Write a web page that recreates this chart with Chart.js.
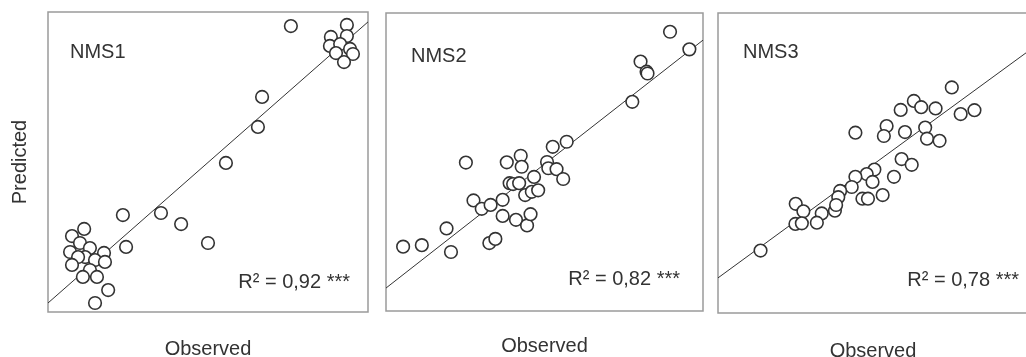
<!DOCTYPE html>
<html>
<head>
<meta charset="utf-8">
<script src="https://cdn.jsdelivr.net/npm/chart.js@4.4.1/dist/chart.umd.min.js"></script>
<style>
  body { margin: 0; background: #fff; overflow: hidden; }
  .panel { position: absolute; top: 0; height: 357px; }
  #p1 { left: 0; width: 375px; }
  #p2 { left: 380px; width: 330px; }
  #p3 { left: 712px; width: 318px; }
</style>
</head>
<body>
<div class="panel" id="p1"><canvas id="c1"></canvas></div>
<div class="panel" id="p2"><canvas id="c2"></canvas></div>
<div class="panel" id="p3"><canvas id="c3"></canvas></div>
<script>
// Values (no ticks, so both axes run 0..100)
const nms1Observed  = [11.3, 7.5, 10.0, 6.9, 13.1, 17.5, 24.4, 11.6, 9.4, 7.5, 14.7, 17.8, 13.1, 10.9, 15.3, 18.8, 14.7, 23.4, 35.3, 41.6, 50.0, 55.6, 65.6, 66.9, 75.9, 93.4, 93.4, 88.4, 88.1, 91.3, 94.4, 90.0, 95.3, 92.5];
const nms1Predicted = [27.7, 25.3, 23.0, 20.0, 21.3, 19.7, 21.7, 18.3, 18.3, 15.7, 17.3, 16.7, 14.0, 11.7, 11.7, 7.3, 3.0, 32.3, 33.0, 29.3, 23.0, 49.7, 61.7, 71.7, 95.3, 95.7, 92.0, 91.7, 88.7, 89.3, 87.7, 86.3, 86.0, 83.3];
const nms1FitX = [0, 100];
const nms1FitY = [3.0, 96.7];

const nms2Observed  = [5.4, 11.3, 19.1, 20.5, 25.2, 27.6, 30.2, 33.0, 36.8, 36.8, 32.6, 34.5, 41.0, 44.5, 45.6, 38.1, 42.5, 42.8, 39.0, 40.1, 42.0, 43.9, 46.0, 48.0, 46.7, 50.8, 51.2, 53.8, 55.9, 52.6, 57.0, 77.7, 80.3, 82.2, 82.5, 89.6, 95.7];
const nms2Predicted = [21.6, 22.1, 27.7, 19.8, 49.8, 37.1, 34.3, 35.6, 37.3, 31.9, 22.8, 24.2, 30.6, 28.7, 32.5, 49.9, 52.1, 48.4, 42.9, 42.6, 42.9, 38.9, 40.0, 40.5, 45.0, 50.0, 47.9, 47.6, 44.3, 55.1, 56.8, 70.2, 83.7, 80.3, 79.7, 93.7, 87.8];
const nms2FitX = [0, 100];
const nms2FitY = [7.7, 90.9];

// third panel runs past the right edge of the picture
const nms3Observed  = [76.4, 64.0, 66.4, 71.1, 59.7, 79.3, 83.8, 44.9, 55.1, 54.2, 61.1, 67.7, 68.3, 72.4, 60.0, 63.3, 57.5, 51.1, 48.6, 44.9, 50.5, 43.7, 39.9, 39.3, 47.2, 49.0, 53.8, 38.2, 38.6, 33.9, 32.3, 25.4, 27.9, 25.3, 27.4, 13.9];
const nms3Predicted = [75.2, 70.7, 68.6, 68.2, 67.7, 66.3, 67.6, 60.1, 62.3, 59.0, 60.3, 61.8, 58.1, 57.4, 51.3, 49.4, 45.4, 47.8, 46.3, 45.4, 43.7, 42.0, 40.7, 38.6, 38.1, 38.1, 39.3, 34.1, 36.0, 33.2, 30.1, 36.4, 33.9, 29.7, 29.9, 20.8];
const nms3FitX = [0, 101.3];
const nms3FitY = [11.7, 87.2];

const panelNames = ['NMS1', 'NMS2', 'NMS3'];
const r2Labels = ['R² = 0,92 ***', 'R² = 0,82 ***', 'R² = 0,78 ***'];
const xTitle = 'Observed';
const yTitle = 'Predicted';

const INK = '#333333';
const FONT = 'Liberation Sans, Arial, sans-serif';

// box outline + panel texts
const panelDecor = {
    id: 'panelDecor',
    beforeDatasetsDraw(chart) {
        const {ctx, chartArea: a} = chart;
        ctx.save();
        ctx.strokeStyle = '#9a9a9a';
        ctx.lineWidth = 1.5;
        ctx.strokeRect(a.left, a.top, a.right - a.left, a.bottom - a.top);
        ctx.restore();
    },
    afterDraw(chart, args, o) {
        const {ctx, chartArea: a} = chart;
        ctx.save();
        ctx.fillStyle = INK;
        ctx.font = '20px ' + FONT;
        ctx.textBaseline = 'alphabetic';
        ctx.textAlign = 'left';
        ctx.fillText(o.name, a.left + o.nameDx, a.top + o.nameDy);
        ctx.textAlign = 'right';
        ctx.fillText(o.r2, a.right - o.r2Dx, a.bottom - o.r2Dy);
        ctx.restore();
    }
};

function makePanel(canvasId, obs, pred, fitX, fitY, idx, lay) {
    const points = obs.map((x, i) => ({x, y: pred[i]}));
    const fit = fitX.map((x, i) => ({x, y: fitY[i]}));
    return new Chart(document.getElementById(canvasId), {
        type: 'scatter',
        data: {
            datasets: [
                {
                    data: points,
                    pointRadius: 6.3,
                    pointBorderWidth: 1.6,
                    pointBorderColor: INK,
                    pointBackgroundColor: '#ffffff',
                    clip: false
                },
                {
                    type: 'line',
                    data: fit,
                    borderColor: INK,
                    borderWidth: 1,
                    pointRadius: 0,
                    fill: false
                }
            ]
        },
        options: {
            animation: false,
            responsive: true,
            maintainAspectRatio: false,
            layout: {padding: lay.padding, autoPadding: false},
            plugins: {
                legend: {display: false},
                tooltip: {enabled: false},
                panelDecor: {
                    name: panelNames[idx], r2: r2Labels[idx],
                    nameDx: lay.nameDx, nameDy: lay.nameDy,
                    r2Dx: lay.r2Dx, r2Dy: lay.r2Dy
                }
            },
            scales: {
                x: {
                    min: 0, max: lay.xMax,
                    ticks: {display: false},
                    grid: {display: false},
                    border: {display: false},
                    title: {
                        display: true, text: xTitle, color: INK,
                        font: {family: FONT, size: 20, lineHeight: lay.xLine},
                        padding: 0
                    },
                    afterFit: s => { s.height = lay.xHeight; }
                },
                y: {
                    display: lay.showY,
                    min: 0, max: 100,
                    ticks: {display: false},
                    grid: {display: false},
                    border: {display: false},
                    title: {
                        display: true, text: yTitle, color: INK,
                        font: {family: FONT, size: 20},
                        padding: {top: 8, bottom: 0}
                    },
                    // only the first panel keeps room for "Predicted"
                    afterFit: s => { s.width = lay.showY ? 48 : 0; }
                }
            }
        },
        plugins: [panelDecor]
    });
}

makePanel('c1', nms1Observed, nms1Predicted, nms1FitX, nms1FitY, 0, {
    padding: {top: 12, right: 7, left: 0, bottom: 0},
    showY: true, xMax: 100, xHeight: 45, xLine: 0.8,
    nameDx: 22, nameDy: 46, r2Dx: 18, r2Dy: 24
});
makePanel('c2', nms2Observed, nms2Predicted, nms2FitX, nms2FitY, 1, {
    padding: {top: 13, right: 7, left: 6, bottom: 0},
    showY: false, xMax: 100, xHeight: 46, xLine: 1.1,
    nameDx: 25, nameDy: 49, r2Dx: 23, r2Dy: 26
});
makePanel('c3', nms3Observed, nms3Predicted, nms3FitX, nms3FitY, 2, {
    padding: {top: 13, right: 2, left: 6, bottom: 0},
    showY: false, xMax: 101.3, xHeight: 44, xLine: 0.55,
    nameDx: 25, nameDy: 45, r2Dx: 9, r2Dy: 27
});
</script>
</body>
</html>
